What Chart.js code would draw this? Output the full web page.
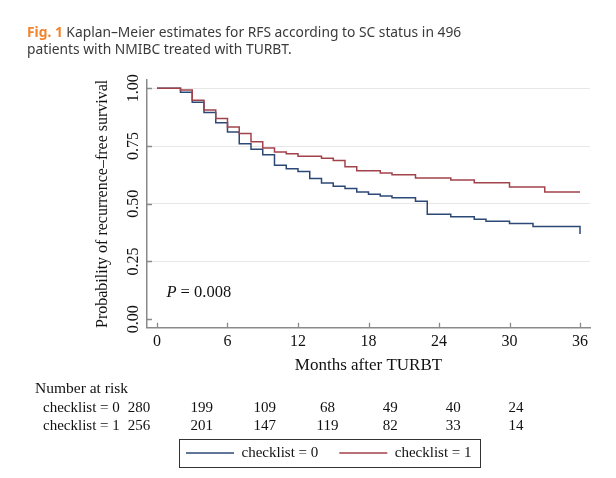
<!DOCTYPE html>
<html>
<head>
<meta charset="utf-8">
<script src="https://cdn.jsdelivr.net/npm/chart.js@4.4.0/dist/chart.umd.min.js"></script>
<style>
html,body{margin:0;padding:0;background:#fff;}
#wrap{position:relative;width:616px;height:478px;overflow:hidden;background:#fff;}
#c{position:absolute;left:0;top:0;}
#cap{position:absolute;left:27px;top:23px;width:580px;font-family:"Noto Sans",sans-serif;font-size:13.8px;line-height:17px;color:#3a3a3a;white-space:nowrap;}
#cap b{color:#f0852d;}
</style>
</head>
<body>
<div id="wrap">
<canvas id="c" width="616" height="478"></canvas>
<div id="cap"><b>Fig. 1</b> Kaplan–Meier estimates for RFS according to SC status in 496<br>patients with NMIBC treated with TURBT.</div>
</div>
<script>
// ---- data ----
const seriesNames = ['checklist = 0', 'checklist = 1'];
const months0 = [0, 2, 3, 4, 5, 6, 7, 8, 9, 10, 11, 12, 13, 14, 15, 16, 17, 18, 19, 20, 22, 23, 25, 27, 28, 30, 32, 36];
const surv0   = [1, 0.983, 0.940, 0.895, 0.851, 0.811, 0.760, 0.736, 0.712, 0.667, 0.652, 0.640, 0.609, 0.590, 0.576, 0.566, 0.551, 0.541, 0.533, 0.526, 0.511, 0.454, 0.444, 0.433, 0.424, 0.414, 0.401, 0.369];
const months1 = [0, 2, 3, 4, 5, 6, 7, 8, 9, 10, 11, 12, 14, 15, 16, 17, 19, 20, 22, 25, 27, 30, 33, 36];
const surv1   = [1, 0.993, 0.948, 0.906, 0.869, 0.832, 0.804, 0.768, 0.741, 0.724, 0.717, 0.706, 0.697, 0.687, 0.660, 0.643, 0.633, 0.626, 0.612, 0.603, 0.591, 0.573, 0.551, 0.551];
const xTickValues = [0, 6, 12, 18, 24, 30, 36];
const yTickValues = [0, 0.25, 0.5, 0.75, 1];
const riskMonths = [0, 6, 12, 18, 24, 30, 36];
const riskHeading = 'Number at risk';
const risk0 = [280, 199, 109, 68, 49, 40, 24];
const risk1 = [256, 201, 147, 119, 82, 33, 14];
const pItalic = 'P';
const pRest = ' = 0.008';
const pAt = [0.8, 0.094];

// ---- styling ----
const SERIF = '"Liberation Serif", "Times New Roman", serif';
const INK = '#111';
const AXIS = '#8a8a8a';
const BLUE = '#2c4876';
const RED = '#a2424a';
const PLOT_BOTTOM = 327.7;

function pts(xs, ys) { return xs.map((x, i) => ({x: x, y: ys[i]})); }

const decor = {
  id: 'decor',
  afterLayout(chart) {
    const lg = chart.legend;
    const pad = lg.options.labels.padding;
    const dx = 186 - (lg.left + pad);
    const dy = 445.5 - (lg.top + pad);
    lg.left += dx; lg.right += dx; lg.top += dy; lg.bottom += dy;
  },
  afterDraw(chart) {
    const ctx = chart.ctx;
    const xs = chart.scales.x, ys = chart.scales.y;
    const area = chart.chartArea;
    ctx.save();
    // inward tick marks
    ctx.strokeStyle = AXIS;
    ctx.lineWidth = 1.3;
    ctx.beginPath();
    xs.ticks.forEach(t => {
      const px = Math.round(xs.getPixelForValue(t.value)) + 0.5;
      ctx.moveTo(px, area.bottom); ctx.lineTo(px, area.bottom - 5);
    });
    ys.ticks.forEach(t => {
      const py = Math.round(ys.getPixelForValue(t.value)) + 0.5;
      ctx.moveTo(area.left, py); ctx.lineTo(area.left + 5, py);
    });
    ctx.stroke();

    // legend frame
    const lg = chart.legend;
    const pad = lg.options.labels.padding;
    const boxes = lg.legendHitBoxes;
    const total = boxes.reduce((s, b) => s + b.width, 0) + pad * (boxes.length - 1);
    const x0 = lg.left + pad, y0 = lg.top + pad;
    const ih = boxes[0].height;
    ctx.strokeStyle = '#333';
    ctx.lineWidth = 1;
    ctx.strokeRect(Math.round(x0 - 7) + 0.5, Math.round(y0 - 6.5) + 0.5, Math.round(total + 15), Math.round(ih + 13));

    // P value annotation
    const px = xs.getPixelForValue(pAt[0]);
    const py = ys.getPixelForValue(pAt[1]);
    ctx.fillStyle = INK;
    ctx.textBaseline = 'alphabetic';
    ctx.textAlign = 'left';
    ctx.font = 'italic 16.5px ' + SERIF;
    ctx.fillText(pItalic, px, py);
    const w = ctx.measureText(pItalic).width;
    ctx.font = '16.5px ' + SERIF;
    ctx.fillText(pRest, px + w, py);

    // number-at-risk table
    const colFirst = 139, colLast = 516;
    const colX = m => colFirst + (m - riskMonths[0]) / (riskMonths[riskMonths.length - 1] - riskMonths[0]) * (colLast - colFirst);
    ctx.font = '15.5px ' + SERIF;
    ctx.textAlign = 'left';
    ctx.fillText(riskHeading, 35, 392.5);
    ctx.font = '15px ' + SERIF;
    const rows = [[seriesNames[0], risk0, 411.5], [seriesNames[1], risk1, 429.5]];
    rows.forEach(r => {
      ctx.textAlign = 'left';
      ctx.fillText(r[0], 43, r[2]);
      ctx.textAlign = 'center';
      r[1].forEach((v, i) => ctx.fillText(String(v), colX(riskMonths[i]), r[2]));
    });
    ctx.restore();
  }
};

new Chart(document.getElementById('c'), {
  type: 'line',
  data: {
    datasets: [
      {label: seriesNames[0], data: pts(months0, surv0), borderColor: BLUE, backgroundColor: BLUE, borderWidth: 1.5, stepped: true, pointRadius: 0, fill: false, order: 1},
      {label: seriesNames[1], data: pts(months1, surv1), borderColor: RED, backgroundColor: RED, borderWidth: 1.5, stepped: true, pointRadius: 0, fill: false, order: 0}
    ]
  },
  options: {
    responsive: false,
    animation: false,
    events: [],
    layout: {padding: {top: 80, right: 26, left: 0, bottom: 0}},
    scales: {
      x: {
        type: 'linear', min: -0.85, max: 36.85,
        afterBuildTicks: s => { s.ticks = xTickValues.map(v => ({value: v})); },
        afterFit: s => {
          const lgH = (s.chart.legend && s.chart.legend.height) || 0;
          s.height = s.chart.height - lgH - PLOT_BOTTOM;
        },
        grid: {display: false, drawTicks: false},
        border: {display: true, color: AXIS, width: 1.5},
        ticks: {padding: 4, color: INK, autoSkip: false, maxRotation: 0, font: {family: SERIF, size: 16}, callback: v => String(v)},
        title: {display: true, text: 'Months after TURBT', color: INK, font: {family: SERIF, size: 17}, padding: {top: 0, bottom: 56}}
      },
      y: {
        type: 'linear', min: -0.037, max: 1.036,
        afterBuildTicks: s => { s.ticks = yTickValues.map(v => ({value: v})); },
        afterFit: s => { s.width = 147; },
        grid: {drawTicks: false, lineWidth: 1, color: c => (c.tick && c.tick.value === 0) ? 'rgba(0,0,0,0)' : '#e7e7e7'},
        border: {display: true, color: AXIS, width: 1.5},
        ticks: {minRotation: 90, maxRotation: 90, crossAlign: 'center', padding: -1, color: INK, font: {family: SERIF, size: 16}, callback: v => Number(v).toFixed(2)},
        title: {display: true, text: 'Probability of recurrence–free survival', color: INK, font: {family: SERIF, size: 16}, padding: {top: 93, bottom: 0}}
      }
    },
    plugins: {
      tooltip: {enabled: false},
      legend: {
        position: 'bottom', align: 'start',
        labels: {
          usePointStyle: true, pointStyle: 'line', pointStyleWidth: 48, boxHeight: 15,
          padding: 21, color: INK, font: {family: SERIF, size: 15},
          sort: (a, b) => a.datasetIndex - b.datasetIndex
        }
      }
    }
  },
  plugins: [decor]
});
</script>
</body>
</html>
